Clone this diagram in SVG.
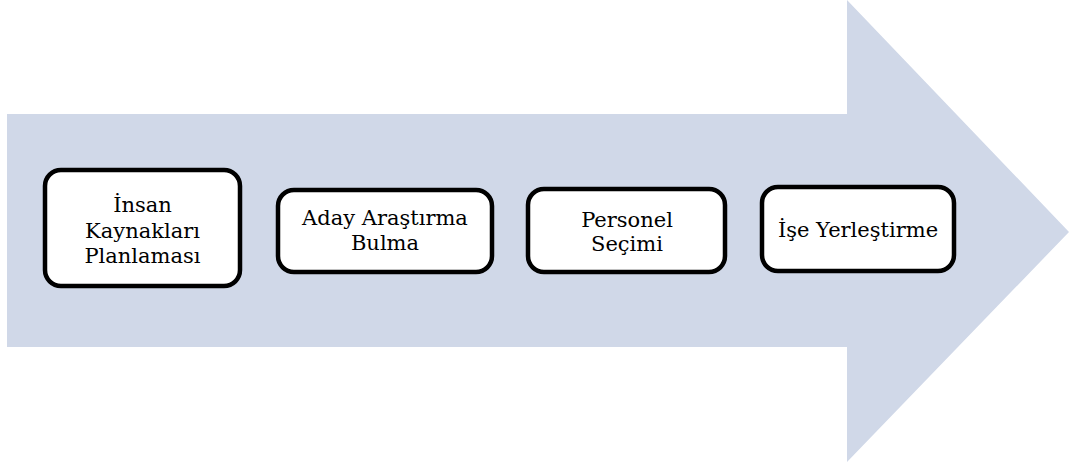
<svg xmlns="http://www.w3.org/2000/svg" width="1069" height="466" viewBox="0 0 1069 466">
<style>
.box{fill:#ffffff;stroke:#000000;stroke-width:4.5}
text{font-family:'DejaVu Serif','Liberation Serif',serif;font-size:21px;fill:#000000;text-anchor:middle}
</style>
<rect width="1069" height="466" fill="#ffffff"/>
<g id="arrow">
<path d="M7,114 L847,114 L847,0 L1069,232 L847,462 L847,347 L7,347 Z" fill="#D0D8E8"/>
</g>
<g id="connectors"></g>
<g id="node1">
<rect class="box" x="45" y="170" width="195" height="116" rx="16"/>
<text x="142.5" y="212">İnsan</text>
<text x="142.5" y="238">Kaynakları</text>
<text x="142.5" y="263">Planlaması</text>
</g>
<g id="node2">
<rect class="box" x="278" y="190" width="214" height="82" rx="16"/>
<text x="385" y="225">Aday Araştırma</text>
<text x="385" y="250">Bulma</text>
</g>
<g id="node3">
<rect class="box" x="528" y="189" width="197" height="83" rx="16"/>
<text x="627" y="227">Personel</text>
<text x="627" y="251">Seçimi</text>
</g>
<g id="node4">
<rect class="box" x="762" y="187" width="192" height="84" rx="16"/>
<text x="858" y="237">İşe Yerleştirme</text>
</g>
</svg>
